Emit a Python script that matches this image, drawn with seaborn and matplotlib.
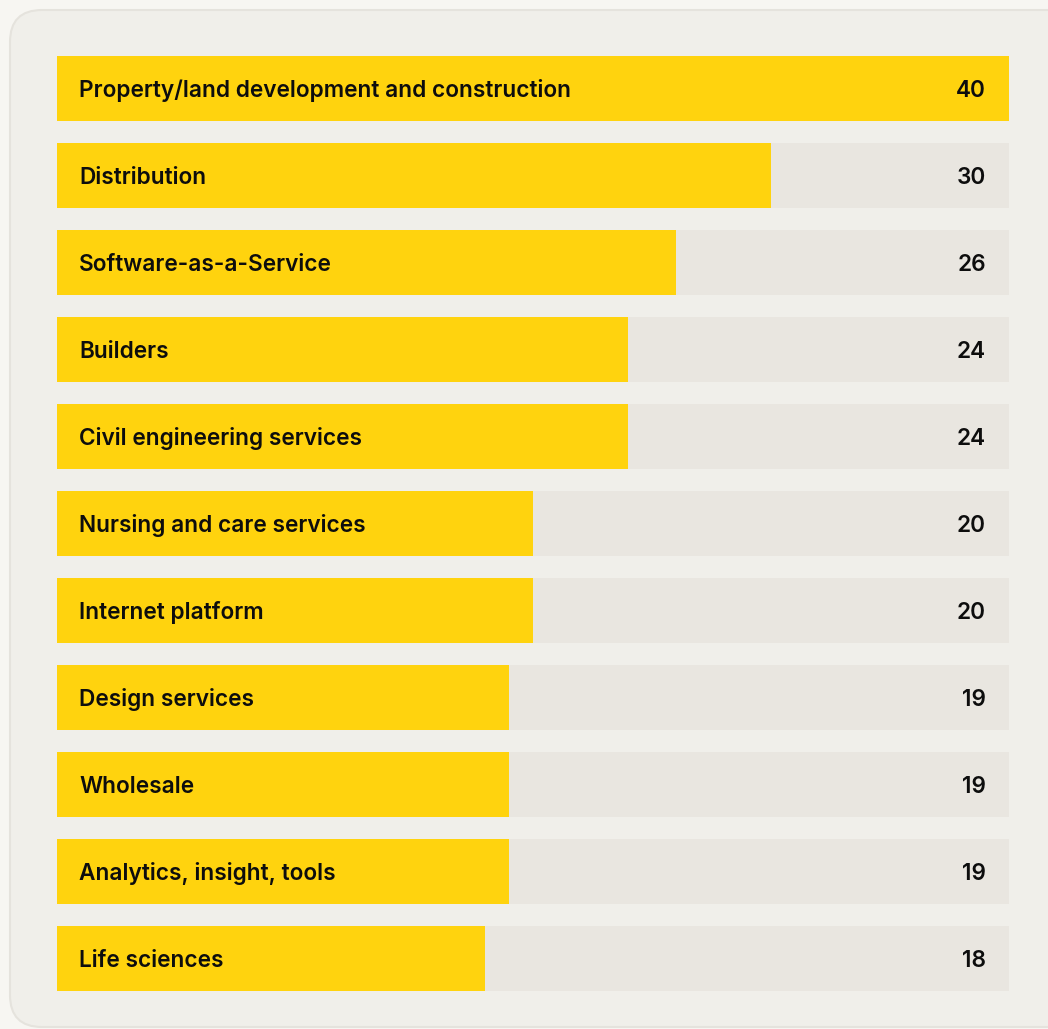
import matplotlib
matplotlib.use("Agg")
import matplotlib.pyplot as plt
from matplotlib.patches import FancyBboxPatch
import seaborn as sns
import pandas as pd

# data
sectors = [
    "Property/land development and construction",
    "Distribution",
    "Software-as-a-Service",
    "Builders",
    "Civil engineering services",
    "Nursing and care services",
    "Internet platform",
    "Design services",
    "Wholesale",
    "Analytics, insight, tools",
    "Life sciences",
]
counts = [40, 30, 26, 24, 24, 20, 20, 19, 19, 19, 18]

YELLOW = "#ffd30e"
TRACK = "#e9e6e0"
CARD = "#f0efea"
PAGE = "#f7f6f2"

sns.set_theme(style="white")
plt.rcParams["font.family"] = ["Inter", "DejaVu Sans"]

W, H = 1048, 1029
fig = plt.figure(figsize=(W / 100, H / 100), dpi=100)
fig.patch.set_facecolor(PAGE)

# rounded card behind the chart (in inches, origin bottom-left)
card = FancyBboxPatch((0.10, 0.02), 11.0, 10.17,
                      boxstyle="round,pad=0,rounding_size=0.32",
                      transform=fig.dpi_scale_trans, facecolor=CARD,
                      edgecolor="#e5e3dd", linewidth=1.5, zorder=-10)
fig.patches.append(card)

df = pd.DataFrame({"sector": sectors, "count": counts})
df["track"] = max(counts)

# axes spans bar area: x 57..1009 px, y 45..1002 px
ax = fig.add_axes([57 / W, 1 - 1002 / H, (1009 - 57) / W, (1002 - 45) / H])
ax.set_facecolor("none")
ax.set_zorder(5)

bw = 65 / 87
sns.barplot(data=df, y="sector", x="track", color=TRACK, width=bw,
            saturation=1, ax=ax, orient="h")
sns.barplot(data=df, y="sector", x="count", color=YELLOW, width=bw,
            saturation=1, ax=ax, orient="h")

for p in ax.patches:
    p.set_linewidth(0)

xmax = max(counts)
for i, (s, c) in enumerate(zip(sectors, counts)):
    ax.text(xmax * 22 / 952, i + 0.025, s, va="center", ha="left",
            fontsize=16.3, fontweight="semibold", color="#0d0d0d")
    ax.text(xmax * (1 - 23 / 952), i + 0.025, str(c), va="center", ha="right",
            fontsize=16.3, fontweight="semibold", color="#0d0d0d")

ax.set_xlim(0, xmax)
ax.set_ylim(len(sectors) - 0.5, -0.5)
ax.set_xlabel("")
ax.set_ylabel("")
ax.set_xticks([])
ax.set_yticks([])
sns.despine(ax=ax, left=True, bottom=True)

fig.savefig("out.png", dpi=100, facecolor=PAGE)
